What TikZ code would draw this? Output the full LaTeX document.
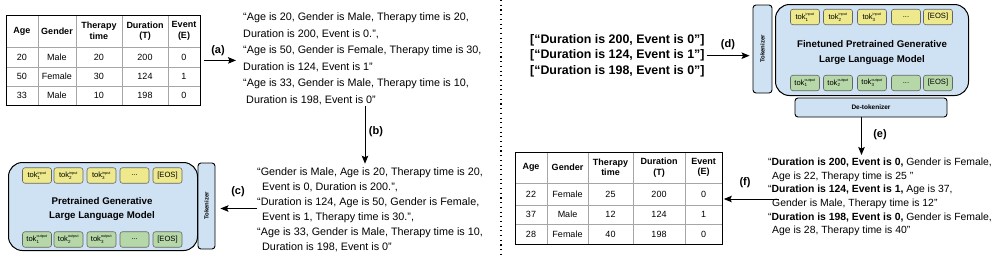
\documentclass[tikz,border=0pt]{standalone}
\usepackage{fontspec}
\setmainfont{Liberation Sans}
\usetikzlibrary{arrows.meta}
\definecolor{llmblue}{HTML}{CFE2F3}
\definecolor{tokyellow}{HTML}{EDE98C}
\definecolor{tokgreen}{HTML}{B6D7A8}
\definecolor{tokedge}{HTML}{666666}
\newcommand{\tokn}[2]{tok$_{\mbox{\fontsize{4.5}{5}\selectfont #1}}^{\mbox{\fontsize{3.8}{5}\selectfont #2}}$}
\begin{document}
\begin{tikzpicture}[x=1pt,y=-1pt,
  arr/.style={draw=black, line width=0.9pt, -{Stealth[length=8pt,width=6.5pt,inset=1.5pt]}},
  lbl/.style={font=\fontsize{11}{13}\selectfont\bfseries, inner sep=0pt},
  txt/.style={align=left, inner sep=0pt, anchor=north west, font=\fontsize{10.8}{16.6}\selectfont},
  tbox/.style={draw=black, line width=0.8pt, inner sep=0pt, anchor=north west},
  gridl/.style={draw=gray!70, line width=0.6pt},
  cellh/.style={align=center, inner sep=0pt, font=\fontsize{9}{10.5}\selectfont\bfseries},
  cell/.style={inner sep=0pt, font=\fontsize{9}{10.5}\selectfont},
  llm/.style={draw=black, line width=1pt, fill=llmblue, rounded corners=14pt, inner sep=0pt, anchor=north west},
  llmtitle/.style={align=center, inner sep=0pt, font=\fontsize{9.7}{14.5}\selectfont\bfseries},
  tokbox/.style={draw=tokedge, line width=0.6pt, rounded corners=2.5pt, minimum width=29pt, minimum height=15.5pt, inner sep=0pt, font=\fontsize{7.6}{8}\selectfont},
  intok/.style={tokbox, fill=tokyellow},
  outtok/.style={tokbox, fill=tokgreen},
  sidebox/.style={draw=black, line width=0.9pt, fill=llmblue, rounded corners=3pt, inner sep=0pt, font=\fontsize{6}{7}\selectfont\bfseries},
  divider/.style={draw=black, line width=1.1pt, dash pattern=on 1.1pt off 3.6pt}
]
\useasboundingbox (0,0) rectangle (997,258);

% ---------------- divider
\coordinate (dtop) at (501,0);
\coordinate (dbot) at (501,258);
\draw[divider] (dtop) -- (dbot);

% ---------------- table 1
\foreach \x in {38,76,122,168} \draw[gridl] (\x,15) -- (\x,105);
\foreach \y in {47,67,86} \draw[gridl] (6,\y) -- (200,\y);
\node[tbox, minimum width=194pt, minimum height=90pt] (t1) at (6,15) {};
\foreach \x/\t in {22/Age, 57/Gender, 99/{Therapy\\time}, 145/{Duration\\(T)}, 184/{Event\\(E)}}
  \node[cellh] at (\x,31) {\t};
\foreach \y/\a/\g/\th/\d/\e in {57/20/Male/20/200/0, 76.5/50/Female/30/124/1, 95.5/33/Male/10/198/0}{
  \node[cell] at (22,\y) {\a};
  \node[cell] at (57,\y) {\g};
  \node[cell] at (99,\y) {\th};
  \node[cell] at (145,\y) {\d};
  \node[cell] at (184,\y) {\e};
}

% ---------------- text block 1
\node[txt] (b1) at (243,12.5) {“Age is 20, Gender is Male, Therapy time is 20,\\
Duration is 200, Event is 0.”,\\
“Age is 50, Gender is Female, Therapy time is 30,\\
Duration is 124, Event is 1”\\
“Age is 33, Gender is Male, Therapy time is 10,\\
\hspace*{3pt}Duration is 198, Event is 0”};

% arrow (a)
\draw[arr, shorten <=3pt, shorten >=7pt] (t1.east) -- (t1.east -| b1.west);
\node[lbl] (la) at (218,51) {(a)};

% ---------------- text block 2
\node[txt, font=\fontsize{10.8}{15}\selectfont] (b2) at (257,167.7) {“Gender is Male, Age is 20, Therapy time is 20,\\
\hspace*{5pt}Event is 0, Duration is 200.”,\\
“Duration is 124, Age is 50, Gender is Female,\\
\hspace*{5pt}Event is 1, Therapy time is 30.”,\\
“Age is 33, Gender is Male, Therapy time is 10,\\
\hspace*{5pt}Duration is 198, Event is 0”};

% arrow (b)
\coordinate (bx) at (365,0);
\draw[arr, shorten <=1pt, shorten >=4pt] (b1.south -| bx) -- (b2.north -| bx);
\node[lbl] (lb) at (376,132) {(b)};

% ---------------- LLM 1
\node[llm, minimum width=189pt, minimum height=88pt] (llm1) at (8,162) {};
\node[llmtitle] (ti1) at (102,209) {Pretrained Generative\\Large Language Model};
\node[intok] (i11) at (37,175.5) {\tokn{1}{input}};
\node[intok] (i12) at (68.5,175.5) {\tokn{2}{input}};
\node[intok] (i13) at (101.5,175.5) {\tokn{3}{input}};
\node[intok] (i14) at (134.5,175.5) {...};
\node[intok] (i15) at (167.5,175.5) {[EOS]};
\node[outtok] (o11) at (37,239.5) {\tokn{1}{output}};
\node[outtok] (o12) at (68.5,239.5) {\tokn{2}{output}};
\node[outtok] (o13) at (101.5,239.5) {\tokn{3}{output}};
\node[outtok] (o14) at (134.5,239.5) {...};
\node[outtok] (o15) at (167.5,239.5) {[EOS]};
\node[sidebox, minimum width=17pt, minimum height=86pt] (tk1) at (206.5,206) {\rotatebox{90}{Tokenizer}};

% arrow (c)
\coordinate (cy) at (0,208.5);
\draw[arr, shorten >=5pt] (b2.west |- cy) -- (tk1.east |- cy);
\node[lbl] (lc) at (238,192) {(c)};

% ---------------- middle bracket text
\node[txt, font=\fontsize{12.4}{15.5}\selectfont\bfseries] (b3) at (530,34.2) {{[}“Duration is 200, Event is 0”{]}\\
{[}“Duration is 124, Event is 1”{]}\\
{[}“Duration is 198, Event is 0”{]}};

% ---------------- LLM 2
\node[llm, minimum width=193pt, minimum height=91pt] (llm2) at (775,4) {};
\node[llmtitle] (ti2) at (872,52.5) {Finetuned Pretrained Generative\\Large Language Model};
\node[intok] (i21) at (805,17) {\tokn{1}{input}};
\node[intok] (i22) at (838,17) {\tokn{2}{input}};
\node[intok] (i23) at (872,17) {\tokn{3}{input}};
\node[intok] (i24) at (906,17) {...};
\node[intok] (i25) at (938,17) {[EOS]};
\node[outtok] (o21) at (805,83) {\tokn{1}{output}};
\node[outtok] (o22) at (838,83) {\tokn{2}{output}};
\node[outtok] (o23) at (872,83) {\tokn{3}{output}};
\node[outtok] (o24) at (906,83) {...};
\node[outtok] (o25) at (938,83) {[EOS]};
\node[sidebox, minimum width=19pt, minimum height=88pt] (tk2) at (762.5,49) {\rotatebox{90}{Tokenizer}};
\node[sidebox, minimum width=152pt, minimum height=19pt, font=\fontsize{6.5}{7}\selectfont\bfseries] (dt) at (871,107.5) {De-tokenizer};

% arrow (d)
\draw[arr, shorten <=2pt, shorten >=3pt] (b3.east) -- (tk2.west |- b3.east);
\node[lbl] (ld) at (728,45) {(d)};

% ---------------- text block 4
\node[txt, font=\fontsize{10.4}{13.6}\selectfont] (b4) at (768,158) {“\textbf{Duration is 200, Event is 0,} Gender is Female,\\
\hspace*{4pt}Age is 22, Therapy time is 25 ”\\
“\textbf{Duration is 124, Event is 1,} Age is 37,\\
\hspace*{4pt}Gender is Male, Therapy time is 12”\\
“\textbf{Duration is 198, Event is 0,} Gender is Female,\\
\hspace*{4pt}Age is 28, Therapy time is 40”};

% arrow (e)
\coordinate (ex) at (861.5,0);
\draw[arr, shorten >=3pt] (dt.south -| ex) -- (b4.north -| ex);
\node[lbl] (le) at (880,135) {(e)};

% ---------------- table 2
\foreach \x in {547,588,633,685} \draw[gridl] (\x,152) -- (\x,244);
\foreach \y in {183,205,224} \draw[gridl] (515,\y) -- (722,\y);
\node[tbox, minimum width=207pt, minimum height=92pt] (t2) at (515,152) {};
\foreach \x/\t in {531/Age, 567.5/Gender, 610.5/{Therapy\\time}, 659/{Duration\\(T)}, 703.5/{Event\\(E)}}
  \node[cellh] at (\x,167.5) {\t};
\foreach \y/\a/\g/\th/\d/\e in {194/22/Female/25/200/0, 214.5/37/Male/12/124/1, 234/28/Female/40/198/0}{
  \node[cell] at (531,\y) {\a};
  \node[cell] at (567.5,\y) {\g};
  \node[cell] at (610.5,\y) {\th};
  \node[cell] at (659,\y) {\d};
  \node[cell] at (703.5,\y) {\e};
}

% arrow (f)
\coordinate (fy) at (0,199);
\draw[arr, shorten <=-11pt, shorten >=1pt] (b4.west |- fy) -- (t2.east |- fy);
\node[lbl] (lf) at (745,183) {(f)};
\end{tikzpicture}
\end{document}
